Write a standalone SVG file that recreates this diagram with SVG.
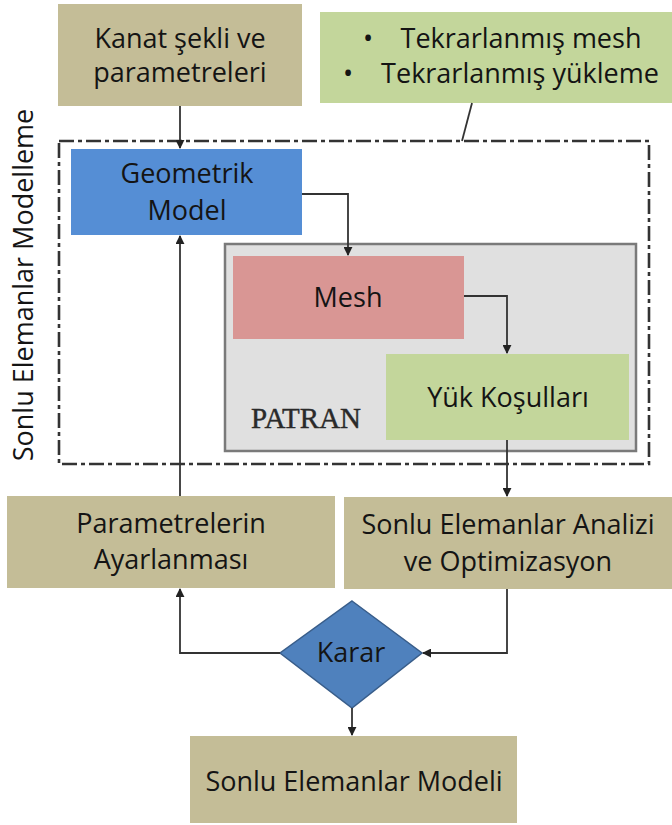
<svg xmlns="http://www.w3.org/2000/svg" width="672" height="825" viewBox="0 0 672 825">
<style>
text{font-family:"Open Sans","Liberation Sans",sans-serif;font-size:27px;fill:#141414;text-anchor:middle}
.tan{fill:#c4bd97}
.conn{fill:none;stroke:#333;stroke-width:1.8}
</style>
<defs>
<marker id="ah" viewBox="0 0 10 10" refX="9" refY="5" markerWidth="9" markerHeight="9" markerUnits="userSpaceOnUse" orient="auto">
<path d="M0,0 L10,5 L0,10 z" fill="#222"/>
</marker>
</defs>
<rect width="672" height="825" fill="#fff"/>

<g id="frame">
<rect x="59" y="141" width="590" height="323" fill="none" stroke="#333" stroke-width="2.6" stroke-dasharray="15 4 4 4"/>
<text transform="rotate(-90 33 285)" x="33" y="285">Sonlu Elemanlar Modelleme</text>
</g>

<g id="patran">
<rect x="225" y="244" width="411" height="207" fill="#e0e0e0" stroke="#7a7a7a" stroke-width="2.5"/>
<text x="306" y="428" style="font-family:'Liberation Serif','Times New Roman',serif;font-size:29px;fill:#2a2a2a;stroke:#2a2a2a;stroke-width:0.4">PATRAN</text>
</g>

<g id="kanat">
<rect class="tan" x="58" y="4" width="244" height="102"/>
<text x="180" y="48">Kanat şekli ve</text>
<text x="180" y="82">parametreleri</text>
</g>

<g id="tekrar">
<rect x="320" y="12" width="352" height="91" fill="#c3d69b"/>
<text x="368" y="48">•</text>
<text x="521" y="48">Tekrarlanmış mesh</text>
<text x="348" y="83">•</text>
<text x="520" y="83">Tekrarlanmış yükleme</text>
</g>

<g id="geometrik">
<rect x="71" y="149" width="231" height="86" fill="#558ed5"/>
<text x="187" y="183">Geometrik</text>
<text x="187" y="220">Model</text>
</g>

<g id="mesh">
<rect x="233" y="256" width="231" height="83" fill="#d99694"/>
<text x="348" y="307">Mesh</text>
</g>

<g id="yuk">
<rect x="386" y="354" width="243" height="86" fill="#c3d69b"/>
<text x="508" y="407">Yük Koşulları</text>
</g>

<g id="parametrelerin">
<rect class="tan" x="7" y="496" width="328" height="92"/>
<text x="171" y="533">Parametrelerin</text>
<text x="171" y="569">Ayarlanması</text>
</g>

<g id="analiz">
<rect class="tan" x="344" y="497" width="328" height="92"/>
<text x="508" y="534">Sonlu Elemanlar Analizi</text>
<text x="508" y="571">ve Optimizasyon</text>
</g>

<g id="karar">
<polygon points="352,601 422,653 352,708 280,653" fill="#4f81bd" stroke="#385d8a" stroke-width="1.5"/>
<text x="351" y="662">Karar</text>
</g>

<g id="modeli">
<rect class="tan" x="190" y="736" width="327" height="87"/>
<text x="354" y="791">Sonlu Elemanlar Modeli</text>
</g>

<g id="connectors">
<path class="conn" d="M472,103 L462,141"/>
<path class="conn" d="M180,106 L180,148" marker-end="url(#ah)"/>
<path class="conn" d="M302,194 L348,194 L348,255" marker-end="url(#ah)"/>
<path class="conn" d="M464,296 L507,296 L507,353" marker-end="url(#ah)"/>
<path class="conn" d="M507,440 L507,496" marker-end="url(#ah)"/>
<path class="conn" d="M180,496 L180,236" marker-end="url(#ah)"/>
<path class="conn" d="M507,589 L507,653 L423,653" marker-end="url(#ah)"/>
<path class="conn" d="M280,653 L180,653 L180,589" marker-end="url(#ah)"/>
<path class="conn" d="M352,708 L352,735" marker-end="url(#ah)"/>
</g>
</svg>
